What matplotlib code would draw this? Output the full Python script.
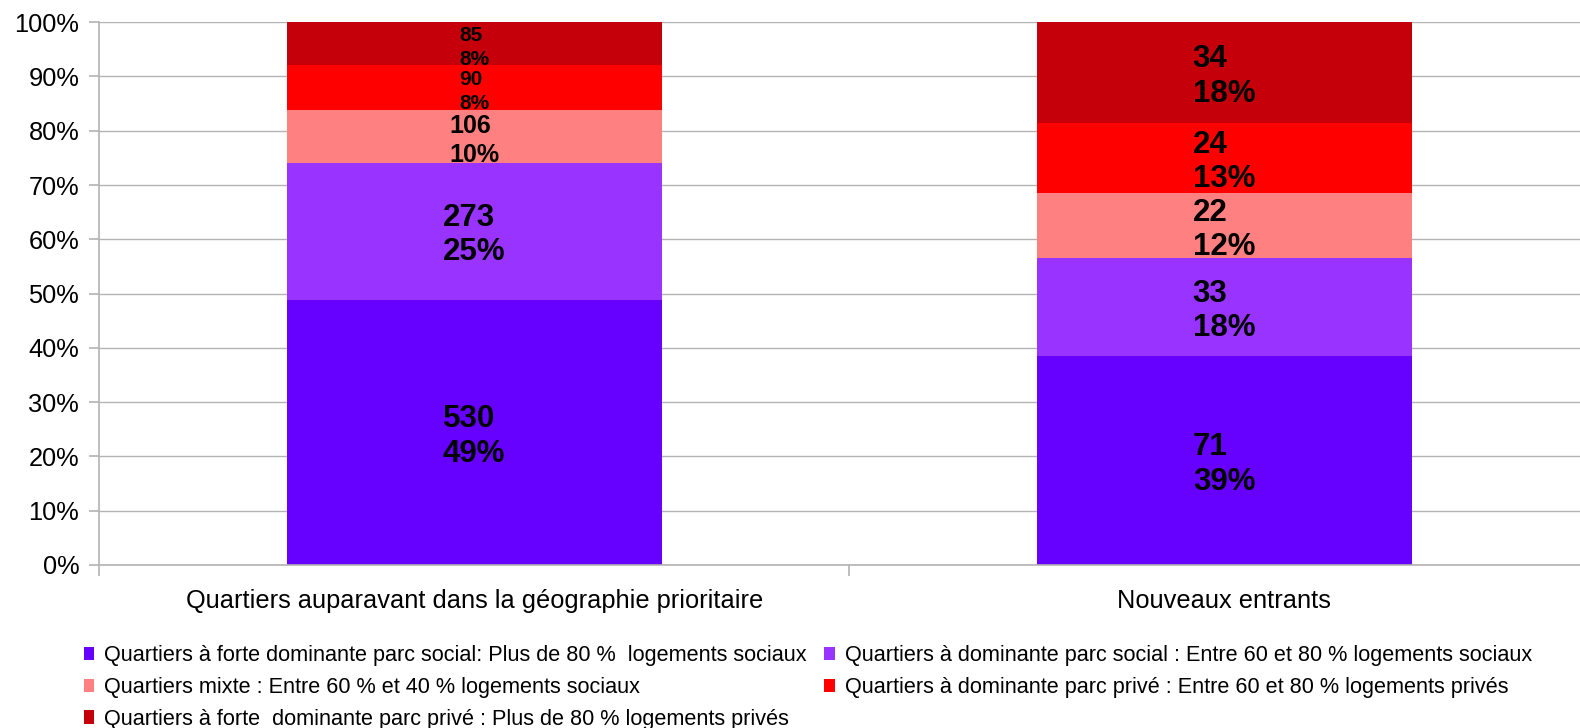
import matplotlib
matplotlib.use("Agg")
import matplotlib.pyplot as plt
import matplotlib.transforms as mtransforms
from matplotlib.patches import Patch
import numpy as np

categories = ["Quartiers auparavant dans la géographie prioritaire", "Nouveaux entrants"]
series_names = [
    "Quartiers à forte dominante parc social: Plus de 80 %  logements sociaux",
    "Quartiers à dominante parc social : Entre 60 et 80 % logements sociaux",
    "Quartiers mixte : Entre 60 % et 40 % logements sociaux",
    "Quartiers à dominante parc privé : Entre 60 et 80 % logements privés",
    "Quartiers à forte  dominante parc privé : Plus de 80 % logements privés",
]
forte_social = [530, 71]
dominante_social = [273, 33]
mixte = [106, 22]
dominante_prive = [90, 24]
forte_prive = [85, 34]
colors = ["#6600ff", "#9933ff", "#ff8080", "#ff0000", "#c5000b"]
ytick_labels = ["0%", "10%", "20%", "30%", "40%", "50%", "60%", "70%", "80%", "90%", "100%"]

plt.rcParams['font.family'] = ['Liberation Sans', 'DejaVu Sans']

series = [forte_social, dominante_social, mixte, dominante_prive, forte_prive]
vals = np.array(series, dtype=float)
totals = vals.sum(axis=0)
shares = vals / totals

fig = plt.figure(figsize=(15.8, 7.28), dpi=100)
ax = fig.add_axes([99.3 / 1580, 163 / 728, (1599 - 99.3) / 1580, (705.8 - 163) / 728])
shift = ax.transData + mtransforms.ScaledTranslation(0, -3 / 72, fig.dpi_scale_trans)

x = np.arange(len(categories))
bottom = np.zeros(len(categories))
for i, s in enumerate(shares):
    ax.bar(x, s, 0.5, bottom=bottom, color=colors[i], zorder=2, label=series_names[i])
    for j in range(len(categories)):
        sh = s[j]
        if sh < 0.09:
            fs, ls = 15, 1.38
        elif sh < 0.11:
            fs, ls = 18, 1.3
        else:
            fs, ls = 22.5, 1.18
        ax.text(x[j], bottom[j] + sh / 2, f"{int(vals[i, j])}\n{round(sh * 100):.0f}%",
                ha="center", va="center", multialignment="left",
                fontsize=fs, fontweight="bold", color="black", zorder=3,
                linespacing=ls, transform=shift)
    bottom += s

ax.set_xlim(-0.5, 1.5)
ax.set_ylim(0, 1)
ax.set_yticks(np.linspace(0, 1, 11))
ax.set_yticklabels(ytick_labels, fontsize=18.3)
ax.set_xticks(x)
ax.set_xticklabels(categories, fontsize=18.3)
ax.set_xticks([-0.5, 0.5, 1.5], minor=True)
ax.tick_params(axis="x", which="major", length=0, pad=17)
ax.tick_params(axis="x", which="minor", length=8, color="#b3b3b3", width=1.2)
ax.tick_params(axis="y", length=7, color="#b3b3b3", width=1.2, pad=7.5)
ax.grid(axis="y", color="#b3b3b3", linewidth=1.0, zorder=0)
for sp in ["top", "right"]:
    ax.spines[sp].set_visible(False)
for sp in ["left", "bottom"]:
    ax.spines[sp].set_color("#b3b3b3")
    ax.spines[sp].set_linewidth(1.2)

handles = [Patch(facecolor=c, edgecolor="none") for c in colors]
order = [0, 2, 4, 1, 3]
fig.legend([handles[k] for k in order], [series_names[k] for k in order],
           loc="upper left", bbox_to_anchor=(83.6 / 1580, 1 - 645 / 728),
           ncol=2, frameon=False, handlelength=0.5, handleheight=0.55,
           handletextpad=0.45, columnspacing=0.8, labelspacing=0.5,
           prop={"family": ["Liberation Sans"], "size": 15.6},
           borderpad=0, borderaxespad=0)

fig.savefig("out.png", dpi=100)
